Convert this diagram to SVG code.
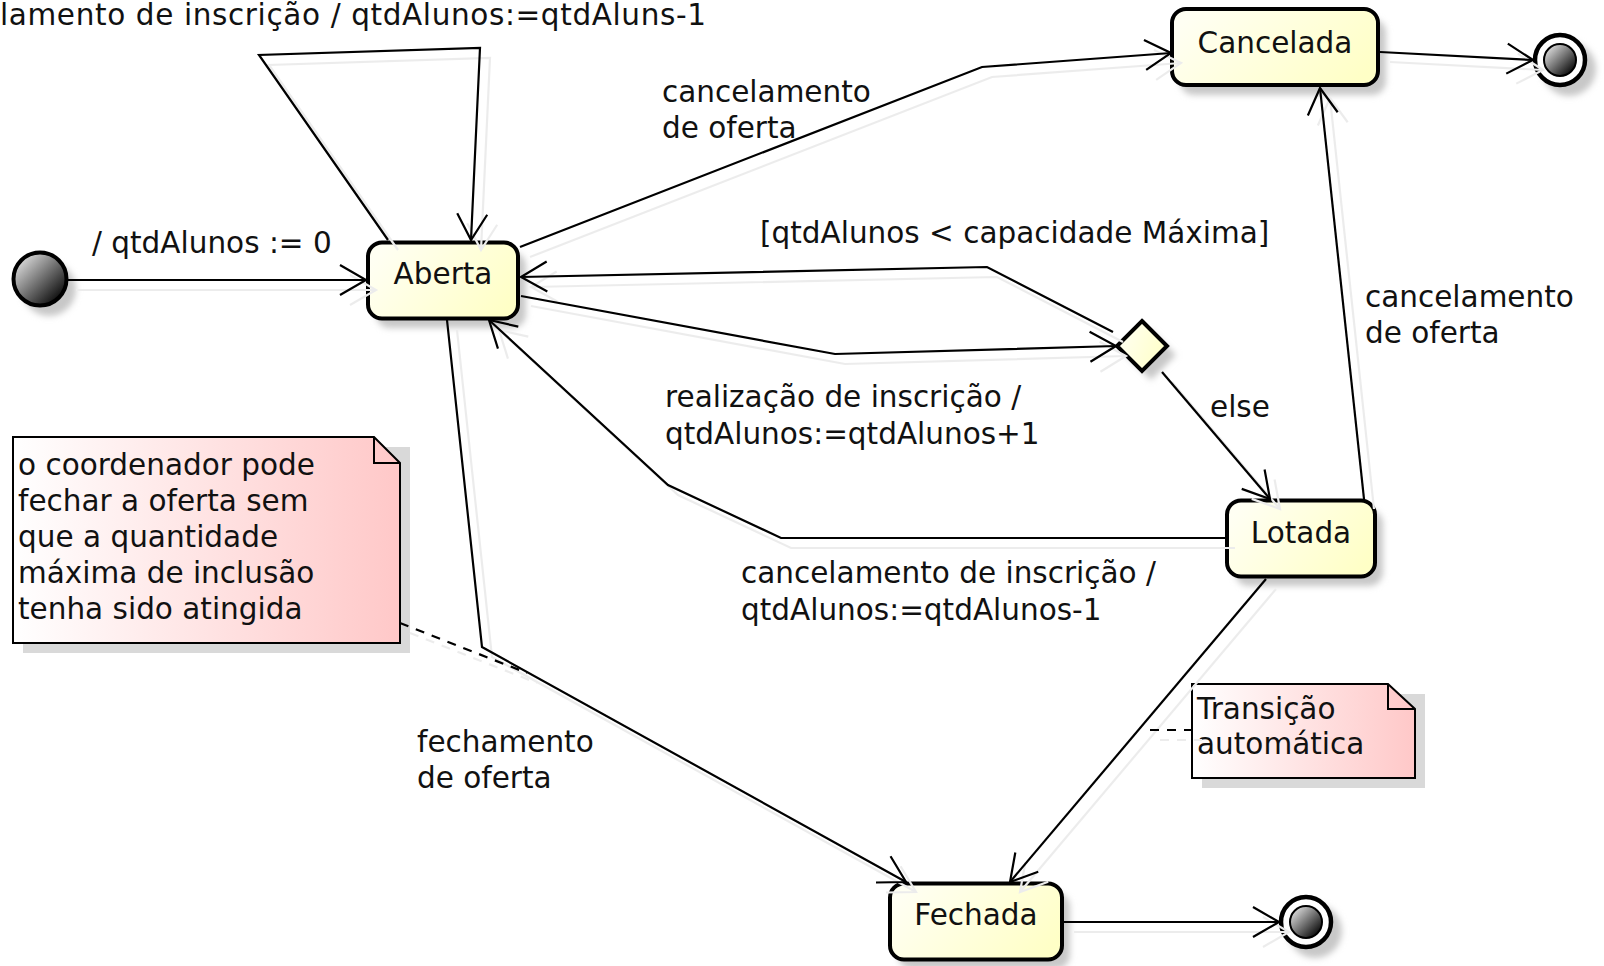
<svg xmlns="http://www.w3.org/2000/svg" xmlns:xlink="http://www.w3.org/1999/xlink" width="1604" height="966" viewBox="0 0 1604 966">
<defs>
<style>
.lbl{font-family:"DejaVu Sans","Liberation Sans",sans-serif;font-size:29.5px;fill:#111}
.mid{text-anchor:middle}
.state{fill:url(#stateGrad);stroke:#000;stroke-width:4}
.nshadow{fill:#c8c8c8;filter:url(#blur)}
.note{fill:url(#noteGrad);stroke:#000;stroke-width:2}
.fold{fill:none;stroke:#000;stroke-width:2}
.conn{fill:none;stroke:#000;stroke-width:2.2;stroke-linejoin:miter}
.arr{marker-end:url(#arrow)}
.dash{stroke-dasharray:9 8}
</style>
<linearGradient id="stateGrad" x1="0" y1="0.3" x2="1" y2="0.7">
<stop offset="0" stop-color="#FFFFF3"/>
<stop offset="1" stop-color="#FFFFC6"/>
</linearGradient>
<linearGradient id="noteGrad" x1="0" y1="0" x2="1" y2="0">
<stop offset="0" stop-color="#FFFFFF"/>
<stop offset="1" stop-color="#FFC8C8"/>
</linearGradient>
<linearGradient id="ballGrad" x1="0.15" y1="0.15" x2="0.85" y2="0.85">
<stop offset="0" stop-color="#d4d4d4"/>
<stop offset="1" stop-color="#111"/>
</linearGradient>
<filter id="blur" x="-20%" y="-20%" width="140%" height="140%">
<feGaussianBlur stdDeviation="3"/>
</filter>
<filter id="grayLine" filterUnits="userSpaceOnUse" x="0" y="0" width="1604" height="966">
<feColorMatrix type="matrix" values="0 0 0 0 0.84  0 0 0 0 0.84  0 0 0 0 0.84  0 0 0 1 0"/>
</filter>
<marker id="arrow" markerUnits="userSpaceOnUse" viewBox="-30 -18 32 36" markerWidth="32" markerHeight="36" refX="0" refY="0" orient="auto" overflow="visible">
<path d="M-26,-15 L0,0 L-26,15" fill="none" stroke="#000" stroke-width="2.2"/>
</marker>
</defs>
<rect width="1604" height="966" fill="#fff"/>

<g id="initial">
<circle cx="49" cy="289" r="27" class="nshadow"/>
<circle cx="40" cy="279" r="26.5" fill="url(#ballGrad)" stroke="#000" stroke-width="4"/>
</g>

<g id="aberta">
<rect x="376" y="252" width="150" height="76" rx="14" class="nshadow"/>
<rect x="368" y="242.5" width="150" height="76" rx="14" class="state"/>
<text x="443" y="284" class="lbl mid">Aberta</text>
</g>

<g id="cancelada">
<rect x="1180" y="19" width="206" height="76" rx="14" class="nshadow"/>
<rect x="1172" y="9" width="206" height="76" rx="14" class="state"/>
<text x="1275" y="53" class="lbl mid">Cancelada</text>
</g>

<g id="lotada">
<rect x="1235" y="510" width="148" height="76" rx="14" class="nshadow"/>
<rect x="1227" y="500.5" width="148" height="76" rx="14" class="state"/>
<text x="1301" y="543" class="lbl mid">Lotada</text>
</g>

<g id="fechada">
<rect x="898" y="893" width="172" height="76" rx="14" class="nshadow"/>
<rect x="890" y="883.5" width="172" height="76" rx="14" class="state"/>
<text x="976" y="925" class="lbl mid">Fechada</text>
</g>

<g id="decisao">
<polygon points="1151,330 1176,355 1151,380 1126,355" class="nshadow"/>
<polygon points="1142,321 1167,346 1142,371 1117,346" class="state"/>
</g>

<g id="final1">
<circle cx="1569" cy="69" r="27" class="nshadow"/>
<circle cx="1560" cy="60" r="25" fill="#fff" stroke="#000" stroke-width="4.5"/>
<circle cx="1560" cy="60" r="16" fill="url(#ballGrad)" stroke="#000" stroke-width="2"/>
</g>

<g id="final2">
<circle cx="1315" cy="931" r="27" class="nshadow"/>
<circle cx="1306" cy="922" r="25" fill="#fff" stroke="#000" stroke-width="4.5"/>
<circle cx="1306" cy="922" r="16" fill="url(#ballGrad)" stroke="#000" stroke-width="2"/>
</g>

<g id="nota1">
<rect x="23" y="447" width="387" height="206" fill="#d9d9d9"/>
<path d="M13,437 H374 L400,463 V643 H13 Z" class="note"/>
<path d="M374,437 V463 H400" class="fold"/>
<text class="lbl"><tspan x="18" y="475">o coordenador pode</tspan><tspan x="18" y="511">fechar a oferta sem</tspan><tspan x="18" y="547">que a quantidade</tspan><tspan x="18" y="583">máxima de inclusão</tspan><tspan x="18" y="619">tenha sido atingida</tspan></text>
</g>

<g id="nota2">
<rect x="1202" y="694" width="223" height="94" fill="#d9d9d9"/>
<path d="M1192,684 H1388 L1415,709 V778 H1192 Z" class="note"/>
<path d="M1388,684 V709 H1415" class="fold"/>
<text class="lbl"><tspan x="1197" y="719">Transição</tspan><tspan x="1197" y="754">automática</tspan></text>
</g>

<use xlink:href="#connectors" href="#connectors" transform="translate(10,10)" filter="url(#grayLine)"/>

<g id="connectors">
<path d="M66,280 L366,280" class="conn arr"/>
<path d="M388,240 L259,55 L480,48 L471,240" class="conn arr"/>
<path d="M520,247 L982,67 L1171,53" class="conn arr"/>
<path d="M1113,332 L987,267 L521,277" class="conn arr"/>
<path d="M521,296 L835,354 L1116,346" class="conn arr"/>
<path d="M1162,372 L1270,499" class="conn arr"/>
<path d="M1225,538 L781,538 L668,485 L489,320" class="conn arr"/>
<path d="M1364,499 L1320,88" class="conn arr"/>
<path d="M447,320 L482,647 L906,882" class="conn arr"/>
<path d="M1266,579 L1010,882" class="conn arr"/>
<path d="M1064,922 L1279,922" class="conn arr"/>
<path d="M1380,52 L1533,60" class="conn arr"/>
<path d="M400,623 L527,673" class="conn dash"/>
<path d="M1150,730 L1192,730" class="conn dash"/>
</g>

<g id="labels">
<text x="0" y="25" class="lbl" textLength="706" lengthAdjust="spacing">lamento de inscrição / qtdAlunos:=qtdAluns-1</text>
<text x="92" y="253" class="lbl">/ qtdAlunos := 0</text>
<text class="lbl"><tspan x="662" y="102">cancelamento</tspan><tspan x="662" y="138">de oferta</tspan></text>
<text x="760" y="243" class="lbl">[qtdAlunos &lt; capacidade Máxima]</text>
<text class="lbl"><tspan x="665" y="407">realização de inscrição /</tspan><tspan x="665" y="444">qtdAlunos:=qtdAlunos+1</tspan></text>
<text x="1210" y="417" class="lbl">else</text>
<text class="lbl"><tspan x="1365" y="307">cancelamento</tspan><tspan x="1365" y="343">de oferta</tspan></text>
<text class="lbl"><tspan x="741" y="583">cancelamento de inscrição /</tspan><tspan x="741" y="620">qtdAlunos:=qtdAlunos-1</tspan></text>
<text class="lbl"><tspan x="417" y="752">fechamento</tspan><tspan x="417" y="788">de oferta</tspan></text>
</g>
</svg>
